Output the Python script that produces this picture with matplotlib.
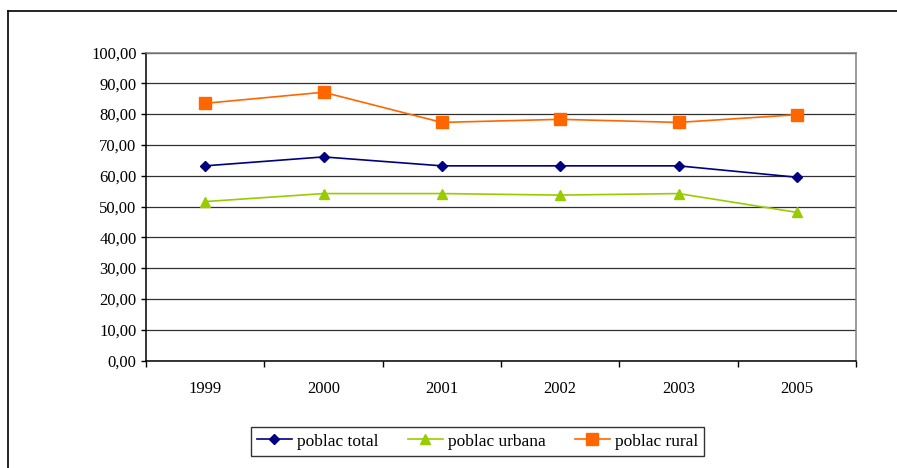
import numpy as np
import matplotlib.pyplot as plt
from matplotlib.lines import Line2D

years = ['1999', '2000', '2001', '2002', '2003', '2005']
poblac_total = [63.2, 66.1, 63.2, 63.2, 63.2, 59.5]
poblac_urbana = [51.6, 54.2, 54.2, 53.7, 54.2, 48.1]
poblac_rural = [83.5, 87.1, 77.3, 78.3, 77.3, 79.8]
y_ticks = np.arange(0, 101, 10)

plt.rcParams['font.family'] = ['Liberation Serif', 'DejaVu Serif']

W, H = 897, 468
fig = plt.figure(figsize=(W / 100, H / 100), dpi=100)

# outer chart frame (top and left edge visible)
fig.add_artist(Line2D([8 / W, 8 / W], [0, 1 - 11 / H], color='black', lw=1.2, transform=fig.transFigure))
fig.add_artist(Line2D([8 / W, 1], [1 - 11 / H, 1 - 11 / H], color='black', lw=1.2, transform=fig.transFigure))

ax = fig.add_axes([146 / W, (H - 360.5) / H, (856 - 146) / W, (360.5 - 52.5) / H])

x = np.arange(len(years))
ax.plot(x, poblac_total, color='#000080', lw=1.2, marker='D', markersize=5,
        label='poblac total')
ax.plot(x, poblac_urbana, color='#99CC00', lw=1.2, marker='^', markersize=7,
        label='poblac urbana')
ax.plot(x, poblac_rural, color='#FF6600', lw=1.2, marker='s', markersize=8.5,
        label='poblac rural')

ax.set_xlim(-0.5, len(years) - 0.5)
ax.set_ylim(0, 100)
ax.set_yticks(y_ticks)
ax.set_yticklabels([f'{v:.2f}'.replace('.', ',') for v in y_ticks], fontsize=12)
ax.yaxis.grid(True, color='#303030', lw=0.9)
ax.set_axisbelow(True)

ax.set_xticks(np.arange(-0.5, len(years), 1.0))
ax.set_xticklabels([])
ax.set_xticks(x, minor=True)
ax.set_xticklabels(years, minor=True, fontsize=12)
ax.tick_params(axis='x', which='major', direction='out', length=4.5, width=1, color='black')
ax.tick_params(axis='x', which='minor', length=0, pad=15)
ax.tick_params(axis='y', direction='out', length=3.6, width=1, pad=3.2)

for side in ['left', 'bottom']:
    ax.spines[side].set_color('black')
    ax.spines[side].set_linewidth(1.1)
for side in ['top', 'right']:
    ax.spines[side].set_color('#808080')
    ax.spines[side].set_linewidth(1.1)

leg = fig.legend(loc='center', bbox_to_anchor=(477.5 / W, 1 - 441.5 / H), ncol=3,
                 fontsize=12.5, frameon=True, fancybox=False, edgecolor='black',
                 handlelength=2.0, handletextpad=0.3, columnspacing=1.7,
                 borderpad=0.35)
leg.get_frame().set_linewidth(1.0)

fig.savefig('out.png', dpi=100)
